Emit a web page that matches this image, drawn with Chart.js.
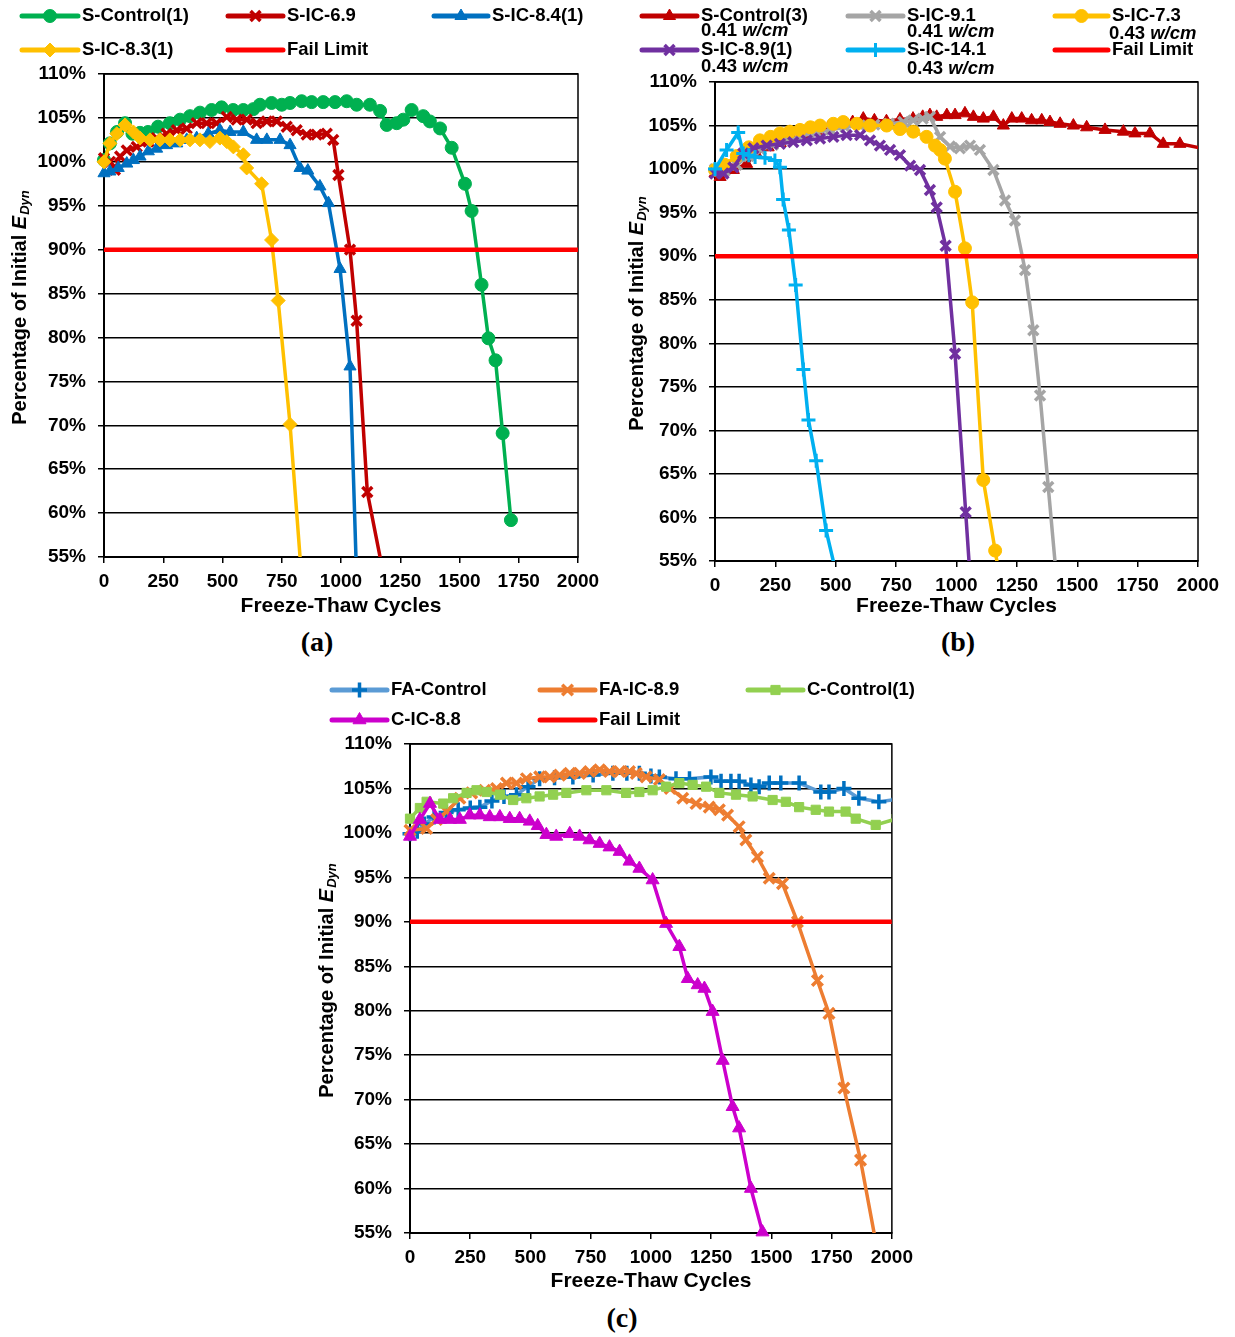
<!DOCTYPE html>
<html>
<head>
<meta charset="utf-8">
<script src="https://cdn.jsdelivr.net/npm/chart.js@4.4.1/dist/chart.umd.min.js"></script>
<style>
  body { margin: 0; background: #fff; width: 1235px; height: 1337px; position: relative; overflow: hidden; }
  .box { position: absolute; }
  .cap { position: absolute; font: bold 28px "Liberation Serif", "Times New Roman", serif; line-height: 28px; transform: translateX(-50%); color: #000; }
</style>
</head>
<body>
<div class="box" style="left:0;top:0;width:615px;height:625px"><canvas id="chartA"></canvas></div>
<div class="box" style="left:615px;top:0;width:620px;height:625px"><canvas id="chartB"></canvas></div>
<div class="box" style="left:300px;top:670px;width:620px;height:630px"><canvas id="chartC"></canvas></div>
<div class="cap" style="left:317px;top:628px">(a)</div>
<div class="cap" style="left:958px;top:628px">(b)</div>
<div class="cap" style="left:622px;top:1304px">(c)</div>

<script>
// axis settings
const xMax = 2000, xTickStep = 250;
const yMin = 55, yMax = 110, yStep = 5;
const failCycles = [0, 2000];
const failPct = [90, 90];

// (a)
const aCtrl1Cycles = [0, 25, 55, 89, 120, 152, 186, 228, 278, 321, 363, 405, 454, 496, 545, 588, 630, 658, 707, 750, 785, 834, 876, 925, 975, 1024, 1066, 1122, 1165, 1193, 1235, 1263, 1298, 1347, 1375, 1418, 1467, 1523, 1551, 1593, 1622, 1652, 1682, 1717];
const aCtrl1Pct = [100.2, 102.1, 103.4, 104.4, 103.2, 103.3, 103.4, 104.0, 104.4, 104.8, 105.2, 105.6, 105.9, 106.2, 105.9, 105.9, 106.0, 106.5, 106.7, 106.5, 106.7, 106.9, 106.8, 106.8, 106.8, 106.9, 106.5, 106.5, 105.8, 104.2, 104.4, 104.8, 105.9, 105.2, 104.6, 103.8, 101.6, 97.5, 94.4, 86.0, 79.9, 77.4, 69.1, 59.2];
const aIc69Cycles = [0, 25, 46, 68, 96, 138, 187, 222, 264, 307, 349, 391, 433, 475, 518, 560, 602, 644, 687, 729, 771, 813, 855, 897, 940, 967, 989, 1038, 1066, 1111, 1175];
const aIc69Pct = [100.4, 100.0, 99.1, 100.6, 101.3, 101.7, 102.3, 102.7, 103.2, 103.6, 103.8, 104.4, 104.4, 104.4, 105.1, 104.8, 104.8, 104.4, 104.6, 104.6, 104.0, 103.6, 103.1, 103.1, 103.2, 102.5, 98.5, 90.0, 81.9, 62.4, 53.6];
const aIc84Cycles = [0, 25, 60, 96, 124, 152, 187, 222, 264, 307, 349, 391, 440, 489, 532, 588, 644, 687, 743, 785, 827, 860, 911, 947, 996, 1038, 1066];
const aIc84Pct = [98.7, 98.9, 99.3, 99.8, 100.2, 100.6, 101.2, 101.5, 101.9, 102.1, 102.5, 102.7, 103.2, 103.6, 103.4, 103.4, 102.5, 102.5, 102.5, 101.9, 99.3, 99.0, 97.2, 95.3, 87.8, 76.7, 52.5];
const aIc83Cycles = [0, 25, 54, 89, 124, 152, 194, 236, 278, 321, 363, 405, 447, 489, 518, 546, 588, 602, 665, 707, 735, 785, 835];
const aIc83Pct = [100.0, 102.1, 103.2, 104.2, 103.4, 102.7, 102.5, 102.5, 102.5, 102.5, 102.5, 102.5, 102.3, 102.7, 102.3, 101.7, 100.8, 99.3, 97.5, 91.1, 84.2, 70.1, 52.2];

// (b)
const bCtrl3Cycles = [0, 21, 76, 131, 170, 220, 270, 320, 370, 420, 470, 520, 570, 614, 660, 710, 766, 820, 860, 890, 918, 960, 994, 1035, 1070, 1111, 1153, 1194, 1229, 1270, 1311, 1353, 1387, 1429, 1484, 1539, 1615, 1691, 1739, 1801, 1856, 1925, 2050];
const bCtrl3Pct = [99.5, 99.1, 99.9, 100.6, 101.8, 102.5, 103.0, 103.5, 104.0, 104.4, 104.8, 105.1, 105.4, 105.8, 105.6, 105.5, 105.7, 105.8, 106.0, 106.2, 106.0, 106.2, 106.2, 106.4, 106.0, 105.8, 106.0, 105.0, 105.8, 105.8, 105.6, 105.6, 105.4, 105.2, 105.0, 104.8, 104.5, 104.3, 104.1, 104.1, 102.9, 102.9, 102.2];
const bIc91Cycles = [0, 40, 90, 140, 190, 240, 300, 360, 420, 480, 540, 600, 660, 720, 780, 821, 860, 890, 932, 973, 1014, 1056, 1097, 1153, 1201, 1242, 1284, 1318, 1346, 1380, 1420];
const bIc91Pct = [100.0, 99.8, 100.5, 101.5, 102.2, 102.8, 103.3, 103.8, 104.2, 104.5, 104.8, 105.0, 105.1, 105.2, 105.4, 105.6, 105.8, 106.0, 103.7, 102.6, 102.4, 102.7, 102.2, 99.9, 96.4, 94.1, 88.4, 81.5, 74.0, 63.5, 51.2];
const bIc73Cycles = [0, 40, 90, 140, 186, 230, 269, 310, 352, 395, 435, 490, 531, 587, 642, 711, 766, 821, 876, 911, 932, 952, 994, 1035, 1065, 1111, 1160, 1175];
const bIc73Pct = [99.9, 100.5, 101.5, 102.5, 103.3, 103.7, 104.1, 104.3, 104.5, 104.8, 105.0, 105.2, 105.4, 105.2, 105.0, 105.0, 104.6, 104.3, 103.7, 102.7, 102.2, 101.2, 97.4, 90.9, 84.7, 64.3, 56.2, 53.7];
const bIc89Cycles = [0, 35, 76, 117, 159, 214, 269, 324, 380, 435, 490, 545, 601, 642, 683, 725, 766, 808, 849, 890, 918, 955, 994, 1038, 1060];
const bIc89Pct = [99.5, 99.5, 100.2, 101.8, 102.4, 102.7, 102.9, 103.1, 103.3, 103.5, 103.7, 103.9, 103.9, 103.3, 102.7, 102.2, 101.6, 100.4, 99.9, 97.6, 95.6, 91.2, 78.8, 60.6, 51.6];
const bIc141Cycles = [0, 48, 96, 117, 140, 166, 207, 248, 269, 282, 306, 334, 366, 387, 419, 460, 500];
const bIc141Pct = [100.0, 102.2, 104.2, 101.8, 101.6, 101.4, 101.3, 101.0, 100.2, 96.5, 93.0, 86.7, 77.0, 71.2, 66.5, 58.5, 53.8];
const bWcm = ['0.41', '0.41', '0.43', '0.43', '0.43'];

// (c)
const cFaCtrlCycles = [0, 30, 60, 100, 150, 200, 250, 290, 340, 390, 442, 490, 538, 600, 676, 760, 842, 900, 952, 1000, 1035, 1104, 1160, 1249, 1291, 1332, 1366, 1415, 1449, 1491, 1539, 1615, 1705, 1739, 1801, 1863, 1946, 2030];
const cFaCtrlPct = [99.9, 100.2, 101.0, 101.8, 102.3, 102.6, 102.8, 102.9, 103.6, 104.1, 104.3, 105.2, 106.1, 106.2, 106.3, 106.5, 106.7, 106.7, 106.7, 106.4, 106.3, 106.1, 106.1, 106.3, 105.8, 105.8, 105.8, 105.4, 105.2, 105.6, 105.6, 105.6, 104.6, 104.6, 105.0, 103.9, 103.5, 103.8];
const cFaIc89Cycles = [0, 69, 110, 152, 207, 256, 310, 359, 400, 442, 483, 538, 580, 621, 663, 704, 745, 787, 828, 870, 911, 939, 980, 1035, 1080, 1132, 1187, 1242, 1284, 1318, 1366, 1394, 1442, 1491, 1546, 1608, 1691, 1739, 1801, 1870, 1940];
const cFaIc89Pct = [100.3, 100.5, 101.5, 102.4, 103.9, 104.5, 104.8, 105.0, 105.6, 105.6, 106.1, 106.3, 106.3, 106.5, 106.7, 106.7, 106.9, 107.1, 106.9, 106.9, 106.9, 106.7, 106.3, 106.0, 105.0, 103.9, 103.3, 102.9, 102.6, 102.0, 100.7, 99.2, 97.3, 94.9, 94.3, 90.0, 83.4, 79.7, 71.3, 63.2, 53.0];
const cCCtrl1Cycles = [0, 41, 69, 138, 179, 235, 276, 318, 373, 428, 483, 538, 594, 649, 732, 815, 897, 952, 1007, 1063, 1118, 1173, 1229, 1284, 1353, 1422, 1505, 1560, 1615, 1684, 1739, 1808, 1850, 1933, 2020];
const cCCtrl1Pct = [101.6, 102.8, 103.5, 103.3, 103.9, 104.5, 104.8, 104.6, 104.3, 103.7, 103.9, 104.1, 104.3, 104.5, 104.8, 104.8, 104.5, 104.6, 104.8, 105.2, 105.6, 105.4, 105.2, 104.5, 104.3, 104.1, 103.7, 103.5, 102.9, 102.6, 102.4, 102.4, 101.6, 100.9, 101.6];
const cCIc88Cycles = [0, 41, 83, 124, 166, 207, 248, 290, 331, 373, 414, 455, 497, 530, 566, 607, 663, 704, 745, 787, 828, 870, 911, 952, 1007, 1063, 1118, 1153, 1194, 1222, 1256, 1298, 1339, 1366, 1415, 1463];
const cCIc88Pct = [99.6, 101.5, 103.3, 101.5, 101.5, 101.5, 102.0, 102.0, 101.8, 101.8, 101.6, 101.6, 101.3, 100.8, 99.8, 99.6, 99.9, 99.6, 99.2, 98.8, 98.4, 97.9, 96.8, 96.0, 94.7, 89.8, 87.2, 83.6, 82.9, 82.5, 79.9, 74.4, 69.2, 66.8, 60.0, 55.1];

const FONT = '"Liberation Sans", Arial, Helvetica, sans-serif';
const EDGE_CLIP = { left: 12, top: 12, right: 0, bottom: 0 };

function pts(xs, ys) {
  return xs.map((x, i) => ({ x: x, y: ys[i] }));
}

function series(label, xs, ys, s) {
  return {
    label: label,
    data: pts(xs, ys),
    showLine: true,
    borderColor: s.line,
    borderWidth: 3.5,
    pointStyle: s.marker,
    pointRadius: s.r,
    pointHoverRadius: s.r,
    pointBorderWidth: s.bw || 1,
    pointBackgroundColor: s.point || s.line,
    pointBorderColor: s.point || s.line,
    tension: 0,
    clip: s.clip || EDGE_CLIP
  };
}

function failSeries() {
  return {
    label: 'Fail Limit',
    data: pts(failCycles, failPct),
    showLine: true,
    borderColor: '#FF0000',
    borderWidth: 4.5,
    pointRadius: 0,
    pointHoverRadius: 0,
    pointStyle: false
  };
}

// later series on top, like the spreadsheet
function stack(list) {
  list.forEach((d, i) => { d.order = list.length - i; });
  return list;
}

const framePlugin = {
  id: 'frame',
  beforeDatasetsDraw(chart) {
    const a = chart.chartArea, ctx = chart.ctx;
    ctx.save();
    ctx.strokeStyle = '#000';
    ctx.lineWidth = 1.5;
    ctx.strokeRect(a.left, a.top, a.right - a.left, a.bottom - a.top);
    ctx.restore();
  }
};

function yTitlePlugin(x) {
  return {
    id: 'yTitle',
    afterDraw(chart) {
      const ctx = chart.ctx, a = chart.chartArea;
      const f1 = 'bold 20px ' + FONT, f2 = 'italic bold 20px ' + FONT, f3 = 'italic bold 13px ' + FONT;
      const t1 = 'Percentage of Initial ', t2 = 'E', t3 = 'Dyn';
      ctx.save();
      ctx.font = f1; const w1 = ctx.measureText(t1).width;
      ctx.font = f2; const w2 = ctx.measureText(t2).width;
      ctx.font = f3; const w3 = ctx.measureText(t3).width;
      ctx.translate(x, (a.top + a.bottom) / 2 - 8);
      ctx.rotate(-Math.PI / 2);
      ctx.fillStyle = '#000';
      ctx.textBaseline = 'middle';
      let p = -(w1 + w2 + w3 + 1) / 2;
      ctx.font = f1; ctx.fillText(t1, p, 0); p += w1;
      ctx.font = f2; ctx.fillText(t2, p, 0); p += w2 + 1;
      ctx.font = f3; ctx.fillText(t3, p, 5);
      ctx.restore();
    }
  };
}

function legendPlugin(items, subs) {
  return {
    id: 'sheetLegend',
    afterDraw(chart) {
      const ctx = chart.ctx;
      items.forEach((it) => {
        const ds = chart.data.datasets[it.ds];
        ctx.save();
        ctx.lineCap = 'round';
        ctx.strokeStyle = ds.borderColor;
        ctx.lineWidth = 5;
        ctx.beginPath();
        ctx.moveTo(it.x1, it.y);
        ctx.lineTo(it.x2, it.y);
        ctx.stroke();
        if (ds.pointStyle) {
          ctx.lineCap = 'butt';
          ctx.fillStyle = ds.pointBackgroundColor;
          ctx.strokeStyle = ds.pointBorderColor;
          ctx.lineWidth = ds.pointBorderWidth;
          Chart.helpers.drawPoint(ctx, { pointStyle: ds.pointStyle, radius: ds.pointRadius, borderWidth: ds.pointBorderWidth, rotation: 0 }, (it.x1 + it.x2) / 2, it.y);
        }
        ctx.fillStyle = '#000';
        ctx.textBaseline = 'middle';
        ctx.font = 'bold 18.5px ' + FONT;
        ctx.fillText(ds.label, it.x2 + 4, it.y);
        if (subs && it.sx !== undefined) {
          const num = subs[it.ds] + ' ';
          ctx.fillText(num, it.sx, it.sy);
          const w = ctx.measureText(num).width;
          ctx.font = 'italic bold 18.5px ' + FONT;
          ctx.fillText('w/cm', it.sx + w, it.sy);
        }
        ctx.restore();
      });
    }
  };
}

function makeChart(id, datasets, g) {
  const tickFont = { family: FONT, size: 19, weight: 'bold' };
  return new Chart(document.getElementById(id), {
    type: 'scatter',
    data: { datasets: datasets },
    options: {
      responsive: true,
      maintainAspectRatio: false,
      animation: false,
      events: [],
      layout: { padding: { top: g.padTop, right: g.padRight, bottom: g.padBottom, left: 0 } },
      plugins: { legend: { display: false }, tooltip: { enabled: false } },
      scales: {
        x: {
          type: 'linear',
          min: 0,
          max: xMax,
          afterFit: (s) => { s.height = g.xAxisH; },
          ticks: { stepSize: xTickStep, autoSkip: false, maxRotation: 0, color: '#000', font: tickFont, padding: 7, callback: (v) => String(v) },
          grid: { drawOnChartArea: false, color: '#000', lineWidth: 1.5, tickLength: 6 },
          border: { color: '#000', width: 2 },
          title: { display: true, text: 'Freeze-Thaw Cycles', color: '#000', font: { family: FONT, size: 21, weight: 'bold' }, padding: 0 }
        },
        y: {
          min: yMin,
          max: yMax,
          afterFit: (s) => { s.width = g.yAxisW; },
          ticks: { stepSize: yStep, autoSkip: false, color: '#000', font: tickFont, padding: 12, callback: (v) => v + '%' },
          grid: { color: '#000', lineWidth: 1.5, tickLength: 6 },
          border: { color: '#000', width: 2 }
        }
      }
    },
    plugins: [framePlugin, yTitlePlugin(g.yTitleX), legendPlugin(g.legend, g.subs)]
  });
}

// (a)
makeChart('chartA', stack([
  series('S-Control(1)', aCtrl1Cycles, aCtrl1Pct, { line: '#00B050', marker: 'circle', r: 6.5 }),
  series('S-IC-6.9', aIc69Cycles, aIc69Pct, { line: '#C00000', marker: 'crossRot', r: 7, bw: 3.5 }),
  series('S-IC-8.4(1)', aIc84Cycles, aIc84Pct, { line: '#0070C0', marker: 'triangle', r: 7 }),
  series('S-IC-8.3(1)', aIc83Cycles, aIc83Pct, { line: '#FFC000', marker: 'rectRot', r: 7 }),
  failSeries()
]), {
  yAxisW: 104, padTop: 74, padRight: 37, padBottom: 6, xAxisH: 62, yTitleX: 20,
  legend: [
    { ds: 0, x1: 22, x2: 78, y: 16 }, { ds: 1, x1: 228, x2: 283, y: 16 }, { ds: 2, x1: 434, x2: 488, y: 16 },
    { ds: 3, x1: 22, x2: 78, y: 50 }, { ds: 4, x1: 228, x2: 283, y: 50 }
  ]
});

// (b)
makeChart('chartB', stack([
  series('S-Control(3)', bCtrl3Cycles, bCtrl3Pct, { line: '#C00000', marker: 'triangle', r: 7 }),
  series('S-IC-9.1', bIc91Cycles, bIc91Pct, { line: '#A5A5A5', marker: 'crossRot', r: 7, bw: 3.5 }),
  series('S-IC-7.3', bIc73Cycles, bIc73Pct, { line: '#FFC000', marker: 'circle', r: 6.5 }),
  series('S-IC-8.9(1)', bIc89Cycles, bIc89Pct, { line: '#7030A0', marker: 'crossRot', r: 7, bw: 3.5 }),
  series('S-IC-14.1', bIc141Cycles, bIc141Pct, { line: '#00B0F0', marker: 'cross', r: 7, bw: 3 }),
  failSeries()
]), {
  yAxisW: 100, padTop: 82, padRight: 37, padBottom: 6, xAxisH: 58, yTitleX: 22,
  subs: bWcm,
  legend: [
    { ds: 0, x1: 27, x2: 82, y: 16, sx: 86, sy: 31 }, { ds: 1, x1: 233, x2: 288, y: 16, sx: 292, sy: 32 }, { ds: 2, x1: 440, x2: 493, y: 16, sx: 494, sy: 34 },
    { ds: 3, x1: 27, x2: 82, y: 50, sx: 86, sy: 67 }, { ds: 4, x1: 233, x2: 288, y: 50, sx: 292, sy: 69 }, { ds: 5, x1: 440, x2: 493, y: 50 }
  ]
});

// (c)
makeChart('chartC', stack([
  series('FA-Control', cFaCtrlCycles, cFaCtrlPct, { line: '#5B9BD5', point: '#0070C0', marker: 'cross', r: 7.5, bw: 3.5 }),
  series('FA-IC-8.9', cFaIc89Cycles, cFaIc89Pct, { line: '#ED7D31', marker: 'crossRot', r: 7.5, bw: 3.5 }),
  series('C-Control(1)', cCCtrl1Cycles, cCCtrl1Pct, { line: '#92D050', marker: 'rect', r: 6.5 }),
  series('C-IC-8.8', cCIc88Cycles, cCIc88Pct, { line: '#CC00CC', marker: 'triangle', r: 7.5, clip: { left: 12, top: 12, right: 0, bottom: 12 } }),
  failSeries()
]), {
  yAxisW: 110, padTop: 74, padRight: 27, padBottom: 6, xAxisH: 61, yTitleX: 27,
  legend: [
    { ds: 0, x1: 32, x2: 87, y: 20 }, { ds: 1, x1: 240, x2: 295, y: 20 }, { ds: 2, x1: 448, x2: 503, y: 20 },
    { ds: 3, x1: 32, x2: 87, y: 50 }, { ds: 4, x1: 240, x2: 295, y: 50 }
  ]
});
</script>
</body>
</html>
